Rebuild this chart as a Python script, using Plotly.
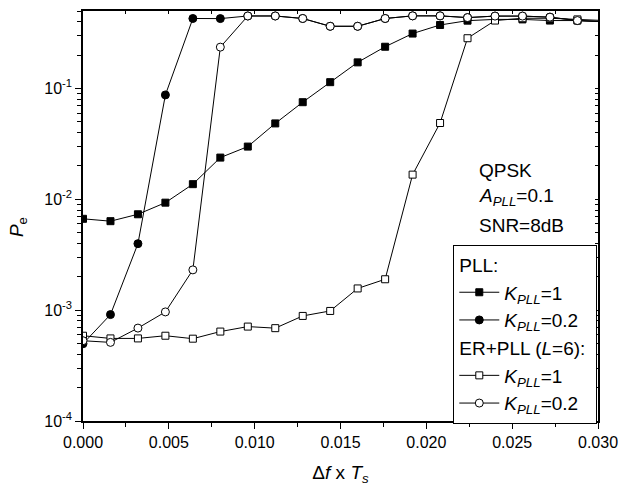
import plotly.graph_objects as go

# Normalised frequency offset (delta f x Ts)
df_ts = [0.0, 0.0016, 0.0032, 0.0048, 0.0064, 0.0080, 0.0096, 0.0112, 0.0128, 0.0144,
         0.0160, 0.0176, 0.0192, 0.0208, 0.0224, 0.0240, 0.0256, 0.0272, 0.0288, 0.0304]

# Symbol error probability, PLL only
pll_k1 = [0.00667, 0.00635, 0.00733, 0.00933, 0.0137, 0.0238, 0.0299, 0.0484, 0.0752, 0.114,
          0.172, 0.238, 0.313, 0.374, 0.409, 0.42, 0.42, 0.41, 0.41, 0.40]
pll_k02 = [0.000498, 0.000912, 0.00398, 0.0875, 0.428, 0.427, 0.451, 0.451, 0.428, 0.364,
           0.364, 0.428, 0.452, 0.452, 0.436, 0.45, 0.45, 0.44, 0.41, 0.40]

# Symbol error probability, ER + PLL (L = 6)
er_k1 = [0.000588, 0.000556, 0.000556, 0.000588, 0.000553, 0.000641, 0.000711, 0.000688, 0.000887, 0.000984,
         0.00157, 0.0019, 0.0167, 0.0488, 0.284, 0.41, 0.43, 0.43, 0.42, 0.41]
er_k02 = [0.00053, 0.000512, 0.000689, 0.000964, 0.00231, 0.236, 0.451, 0.451, 0.428, 0.364,
          0.364, 0.428, 0.452, 0.452, 0.436, 0.45, 0.45, 0.44, 0.41, 0.40]

x_ticks = [0.0, 0.005, 0.010, 0.015, 0.020, 0.025, 0.030]
x_ticktext = ["0.000", "0.005", "0.010", "0.015", "0.020", "0.025", "0.030"]
y_ticks = [1e-4, 1e-3, 1e-2, 1e-1]
y_ticktext = ["10<sup>-4</sup>", "10<sup>-3</sup>", "10<sup>-2</sup>", "10<sup>-1</sup>"]

FONT = "Liberation Sans, Arial, sans-serif"
k_label = "<i>K</i><sub><i>PLL</i></sub>"

x_minor = [i * 0.0025 for i in range(13)]
y_minor = [m * 10 ** e for e in (-4, -3, -2, -1) for m in range(2, 10)]

series = [
    (pll_k1, "square", "black", "PLL", "PLL:", k_label + "=1", 7),
    (pll_k02, "circle", "black", "PLL", "PLL:", k_label + "=0.2", 8),
    (er_k1, "square", "white", "ER", "ER+PLL (<i>L</i>=6):", k_label + "=1", 7),
    (er_k02, "circle", "white", "ER", "ER+PLL (<i>L</i>=6):", k_label + "=0.2", 8),
]

fig = go.Figure()
for ys, sym, fill, grp, gtitle, name, size in series:
    fig.add_trace(go.Scatter(
        x=df_ts, y=ys, mode="lines+markers", name=name,
        legendgroup=grp, legendgrouptitle=dict(text=gtitle, font=dict(size=19, family=FONT, color="black")),
        line=dict(color="black", width=1),
        marker=dict(symbol=sym, size=size, color=fill, line=dict(color="black", width=1)),
    ))

fig.update_layout(
    width=627, height=489,
    margin=dict(l=83, r=29, t=9, b=67),
    paper_bgcolor="white", plot_bgcolor="white",
    font=dict(family=FONT, color="black", size=16),
    showlegend=True,
    legend=dict(
        x=0.719, y=0.43, xanchor="left", yanchor="top",
        bordercolor="black", borderwidth=1, bgcolor="white",
        font=dict(size=19, family=FONT, color="black"),
        tracegroupgap=0, itemwidth=40, traceorder="grouped",
    ),
    xaxis=dict(
        range=[0, 0.030], tickvals=x_ticks, ticktext=x_ticktext,
        showline=True, linecolor="black", linewidth=1.5, mirror=True,
        ticks="outside", ticklen=6, tickwidth=1, tickcolor="black",
        minor=dict(tickvals=x_minor, ticks="outside", ticklen=4, tickcolor="black"),
        showgrid=False, zeroline=False,
        title=dict(text="Δ<i>f</i> x <i>T</i><sub><i>s</i></sub>", font=dict(size=19), standoff=16),
    ),
    yaxis=dict(
        type="log", range=[-4, -0.301], tickvals=y_ticks, ticktext=y_ticktext,
        showline=True, linecolor="black", linewidth=1.5, mirror=True,
        ticks="outside", ticklen=6, tickwidth=1, tickcolor="black",
        minor=dict(tickvals=y_minor, ticks="outside", ticklen=4, tickcolor="black"),
        showgrid=False, zeroline=False,
    ),
    xaxis2=dict(
        overlaying="x", side="top", range=[0, 0.030], tickvals=x_minor,
        ticks="inside", ticklen=3, tickcolor="black", showticklabels=False,
        showgrid=False, zeroline=False, showline=False,
    ),
    yaxis2=dict(
        overlaying="y", side="right", type="log", range=[-4, -0.301],
        tickvals=y_ticks + y_minor, ticks="inside", ticklen=3, tickcolor="black",
        showticklabels=False, showgrid=False, zeroline=False, showline=False,
    ),
)

# Invisible trace anchoring the mirrored tick axes
fig.add_trace(go.Scatter(x=[None], y=[None], xaxis="x2", yaxis="y2", showlegend=False, hoverinfo="skip"))

# Vertical y-axis title
fig.add_annotation(
    xref="paper", yref="paper", x=-0.125, y=0.472, textangle=-90,
    xanchor="center", yanchor="middle", showarrow=False,
    text="<i>P</i><sub>e</sub>", font=dict(size=19, family=FONT, color="black"),
)

# Simulation parameters
param_lines = [("QPSK", 0.612), ("<i>A</i><sub><i>PLL</i></sub>=0.1", 0.547), ("SNR=8dB", 0.478)]
for txt, ypos in param_lines:
    fig.add_annotation(
        xref="paper", yref="paper", x=0.765, y=ypos,
        xanchor="left", yanchor="middle", showarrow=False,
        text=txt, font=dict(size=19, family=FONT, color="black"),
    )

fig.write_html("out.html")
